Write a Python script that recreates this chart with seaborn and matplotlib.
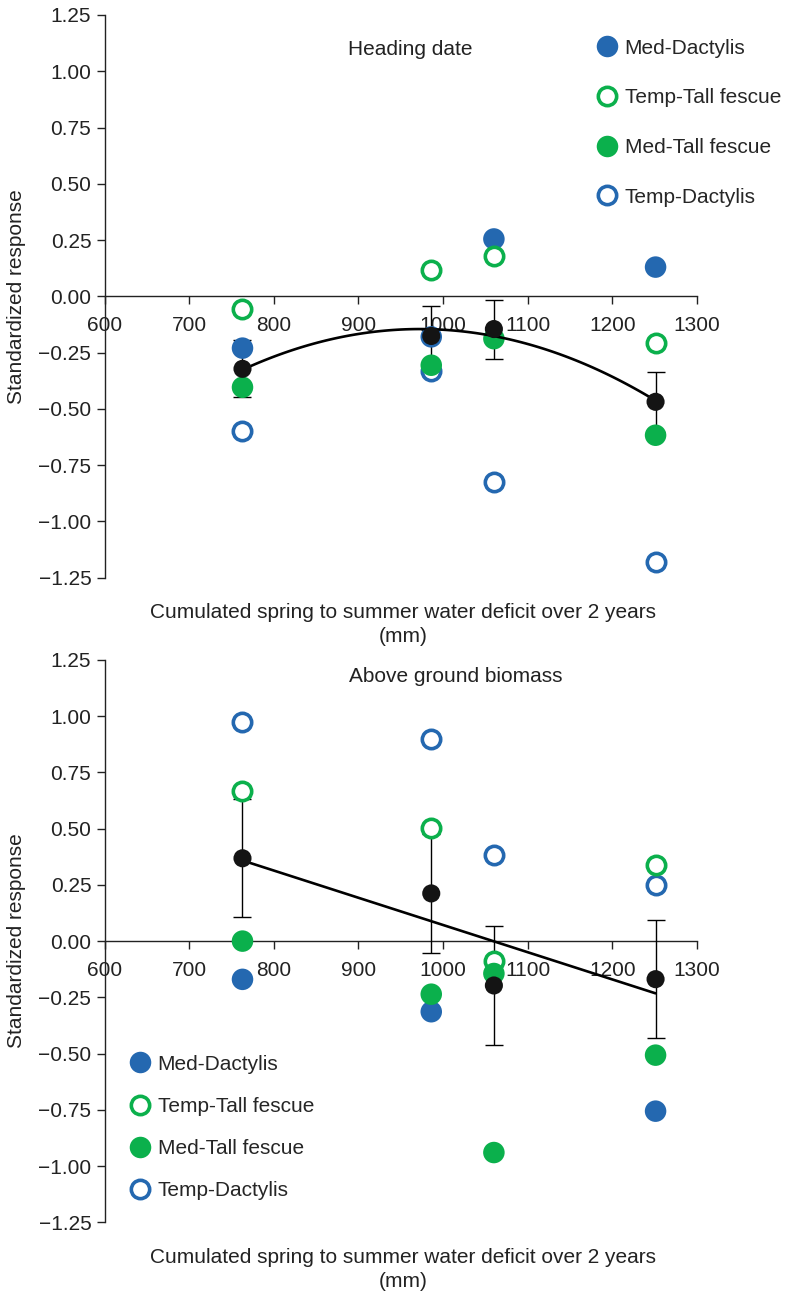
import numpy as np
import pandas as pd
import matplotlib
matplotlib.use("Agg")
import matplotlib.pyplot as plt
import seaborn as sns
from matplotlib.lines import Line2D

# Cumulated spring-to-summer water deficit of the four sites (mm)
deficit_mm = [763, 986, 1060, 1251]

series_names = ["Med-Dactylis", "Temp-Tall fescue", "Med-Tall fescue", "Temp-Dactylis"]

# Heading date, standardized response
heading_med_dactylis = [-0.230, -0.180, 0.255, 0.130]
heading_temp_tall_fescue = [-0.055, 0.115, 0.178, -0.207]
heading_med_tall_fescue = [-0.404, -0.306, -0.188, -0.617]
heading_temp_dactylis = [-0.599, -0.333, -0.826, -1.180]
heading_err = [0.127, 0.132, 0.131, 0.132]

# Above ground biomass, standardized response
biomass_med_dactylis = [-0.170, -0.314, -0.940, -0.756]
biomass_temp_tall_fescue = [0.669, 0.501, -0.088, 0.337]
biomass_med_tall_fescue = [0.000, -0.236, -0.144, -0.507]
biomass_temp_dactylis = [0.974, 0.897, 0.383, 0.249]
biomass_err = [0.262, 0.263, 0.264, 0.262]

x_ticks = [600, 700, 800, 900, 1000, 1100, 1200, 1300]
y_ticks = [-1.25, -1.00, -0.75, -0.50, -0.25, 0.00, 0.25, 0.50, 0.75, 1.00, 1.25]

x_label = "Cumulated spring to summer water deficit over 2 years\n(mm)"
y_label = "Standardized response"

BLUE = "#2468B0"
GREEN = "#0BB04C"
STYLE = {
    "Med-Dactylis": (BLUE, True),
    "Temp-Tall fescue": (GREEN, False),
    "Med-Tall fescue": (GREEN, True),
    "Temp-Dactylis": (BLUE, False),
}
DRAW_ORDER = ["Temp-Dactylis", "Med-Dactylis", "Temp-Tall fescue", "Med-Tall fescue"]

FILLED_S = 240
OPEN_S = 175
OPEN_LW = 2.6
FS = 15

sns.set_style("ticks")
plt.rcParams["font.family"] = ["Liberation Sans", "DejaVu Sans"]
plt.rcParams["axes.unicode_minus"] = True

fig = plt.figure(figsize=(7.93, 12.93), dpi=100)
ax_top = fig.add_axes([0.1318, 0.5532, 0.7472, 0.4352])
ax_bot = fig.add_axes([0.1318, 0.0547, 0.7472, 0.4349])


def draw_panel(ax, values, err, title, title_xy, legend_anchor, legend_spacing,
               fit_order, face_override=None):
    df = pd.DataFrame({"deficit": deficit_mm, **values})
    for k, name in enumerate(DRAW_ORDER):
        color, filled = STYLE[name]
        z = 3 + 0.1 * k
        if filled:
            sns.scatterplot(data=df, x="deficit", y=name, ax=ax, s=FILLED_S,
                            color=color, edgecolor="none", linewidth=0,
                            zorder=z, legend=False, clip_on=False)
        else:
            sns.scatterplot(data=df, x="deficit", y=name, ax=ax, s=OPEN_S,
                            color=color, facecolor="white", edgecolor=color,
                            linewidth=OPEN_LW, zorder=z, legend=False,
                            clip_on=False)
        if face_override and name in face_override:
            coll = ax.collections[-1]
            faces = [face_override[name].get(i, color) for i in range(len(df))]
            coll.set_facecolor(faces)

    means = df[series_names].mean(axis=1).to_numpy()
    ax.errorbar(deficit_mm, means, yerr=err, fmt="none", ecolor="black",
                elinewidth=1.0, capsize=6.5, capthick=1.0, zorder=2.9)
    sns.regplot(x=np.array(deficit_mm, dtype=float), y=means, order=fit_order,
                ci=None, scatter=False, truncate=True, ax=ax, color="black",
                line_kws=dict(lw=1.9, zorder=3.5))
    sns.scatterplot(x=deficit_mm, y=means, ax=ax, s=170, color="#141414",
                    edgecolor="none", linewidth=0, zorder=3.6, legend=False,
                    clip_on=False)

    ax.set_xlim(600, 1300)
    ax.set_ylim(-1.25, 1.25)
    ax.set_xticks(x_ticks)
    ax.set_xticklabels([str(v) for v in x_ticks])
    ax.set_yticks(y_ticks)
    ax.set_yticklabels([f"{v:.2f}".replace("-", "\u2212") for v in y_ticks])
    ax.tick_params(axis="both", direction="out", length=5.5, width=1.0,
                   labelsize=15, colors="#222222")
    ax.tick_params(axis="x", pad=9)
    ax.tick_params(axis="y", pad=4)
    for side in ("top", "right"):
        ax.spines[side].set_visible(False)
    ax.spines["bottom"].set_position(("data", 0))
    for side in ("left", "bottom"):
        ax.spines[side].set_linewidth(1.0)
        ax.spines[side].set_color("#222222")

    ax.set_xlabel(x_label, fontsize=FS, color="#222222", linespacing=1.35)
    ax.xaxis.set_label_coords(0.504, -0.045)
    ax.set_ylabel(y_label, fontsize=FS, color="#222222")
    ax.yaxis.set_label_coords(-0.133, 0.5)

    ax.text(title_xy[0], title_xy[1], title, transform=ax.transAxes,
            ha="center", va="center", fontsize=FS, color="#222222")

    handles = []
    for name in series_names:
        color, filled = STYLE[name]
        if filled:
            h = Line2D([], [], ls="none", marker="o", markersize=15.5,
                       markerfacecolor=color, markeredgecolor="none")
        else:
            h = Line2D([], [], ls="none", marker="o", markersize=13.2,
                       markerfacecolor="white", markeredgecolor=color,
                       markeredgewidth=OPEN_LW)
        handles.append(h)
    ax.legend(handles, series_names, loc="upper left",
              bbox_to_anchor=legend_anchor, frameon=False, fontsize=FS,
              borderpad=0, borderaxespad=0, handlelength=1.0,
              handletextpad=0.36, labelspacing=legend_spacing)


draw_panel(
    ax_top,
    {
        "Med-Dactylis": heading_med_dactylis,
        "Temp-Tall fescue": heading_temp_tall_fescue,
        "Med-Tall fescue": heading_med_tall_fescue,
        "Temp-Dactylis": heading_temp_dactylis,
    },
    heading_err, "Heading date", (0.516, 0.938), (0.830, 0.958), 1.47, 2,
)

draw_panel(
    ax_bot,
    {
        "Med-Dactylis": biomass_med_dactylis,
        "Temp-Tall fescue": biomass_temp_tall_fescue,
        "Med-Tall fescue": biomass_med_tall_fescue,
        "Temp-Dactylis": biomass_temp_dactylis,
    },
    biomass_err, "Above ground biomass", (0.592, 0.970), (0.042, 0.298), 1.11, 1,
    face_override={"Med-Dactylis": {2: GREEN}},
)

fig.savefig("out.png", dpi=100)
